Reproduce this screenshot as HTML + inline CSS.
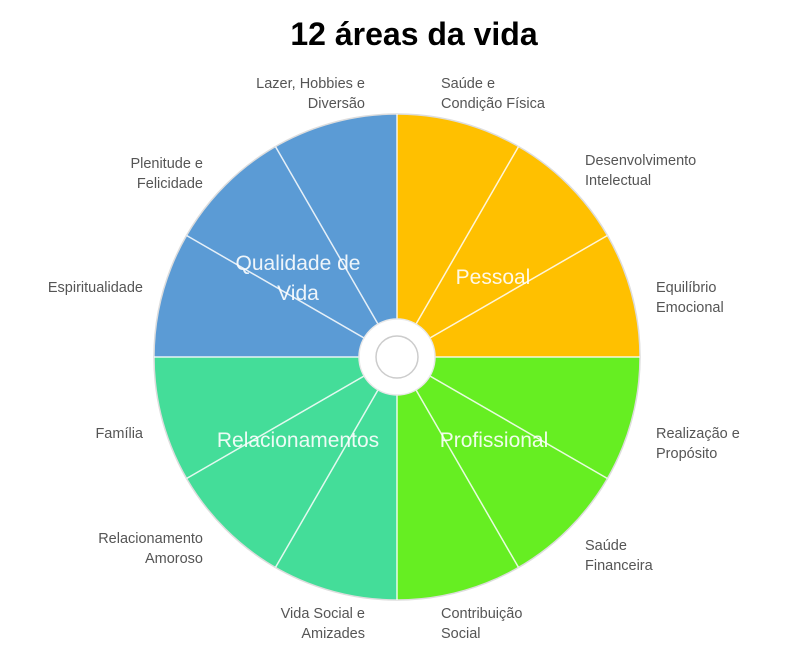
<!DOCTYPE html>
<html><head><meta charset="utf-8"><style>
body{margin:0;background:#fff;}
svg text{font-family:"Liberation Sans",sans-serif;}
.l{font-size:14.5px;fill:#555;}
.q{font-size:21px;fill:#fff;opacity:.9}
</style></head><body>
<svg width="807" height="652" viewBox="0 0 807 652" xmlns="http://www.w3.org/2000/svg">
<text x="414" y="45" text-anchor="middle" font-size="32" font-weight="bold" fill="#000">12 áreas da vida</text>
<g transform="translate(397,357)">
<path d="M0,0 L0,-243 A243,243 0 0 1 243,0 Z" fill="#ffc000"/>
<path d="M0,0 L243,0 A243,243 0 0 1 0,243 Z" fill="#66ee22"/>
<path d="M0,0 L0,243 A243,243 0 0 1 -243,0 Z" fill="#44dd99"/>
<path d="M0,0 L-243,0 A243,243 0 0 1 0,-243 Z" fill="#5b9bd5"/>
<circle r="243" fill="none" stroke="#ddd" stroke-width="1.5"/>
<g stroke="#fff" stroke-width="1.5" opacity=".85">
<line x1="0" y1="-243" x2="0" y2="243"/><line x1="-243" y1="0" x2="243" y2="0"/>
<line x1="0" y1="0" x2="121.5" y2="-210.4"/><line x1="0" y1="0" x2="210.4" y2="-121.5"/>
<line x1="0" y1="0" x2="210.4" y2="121.5"/><line x1="0" y1="0" x2="121.5" y2="210.4"/>
<line x1="0" y1="0" x2="-121.5" y2="210.4"/><line x1="0" y1="0" x2="-210.4" y2="121.5"/>
<line x1="0" y1="0" x2="-210.4" y2="-121.5"/><line x1="0" y1="0" x2="-121.5" y2="-210.4"/>
</g>
<circle r="38" fill="#fff" stroke="#e8e8e8" stroke-width="1.5"/>
<circle r="21" fill="#fff" stroke="#ccc" stroke-width="1.5"/>
</g>
<text class="q" x="493" y="284" text-anchor="middle">Pessoal</text>
<text class="q" x="298" y="270" text-anchor="middle">Qualidade de</text>
<text class="q" x="298" y="300" text-anchor="middle">Vida</text>
<text class="q" x="298" y="447" text-anchor="middle">Relacionamentos</text>
<text class="q" x="494" y="447" text-anchor="middle">Profissional</text>
<g class="l">
<text x="441" y="88">Saúde e</text><text x="441" y="108">Condição Física</text>
<text x="585" y="165">Desenvolvimento</text><text x="585" y="185">Intelectual</text>
<text x="656" y="292">Equilíbrio</text><text x="656" y="312">Emocional</text>
<text x="656" y="438">Realização e</text><text x="656" y="458">Propósito</text>
<text x="585" y="550">Saúde</text><text x="585" y="570">Financeira</text>
<text x="441" y="618">Contribuição</text><text x="441" y="638">Social</text>
</g>
<g class="l" text-anchor="end">
<text x="365" y="88">Lazer, Hobbies e</text><text x="365" y="108">Diversão</text>
<text x="203" y="168">Plenitude e</text><text x="203" y="188">Felicidade</text>
<text x="143" y="292">Espiritualidade</text>
<text x="143" y="438">Família</text>
<text x="203" y="543">Relacionamento</text><text x="203" y="563">Amoroso</text>
<text x="365" y="618">Vida Social e</text><text x="365" y="638">Amizades</text>
</g>
</svg>
</body></html>
